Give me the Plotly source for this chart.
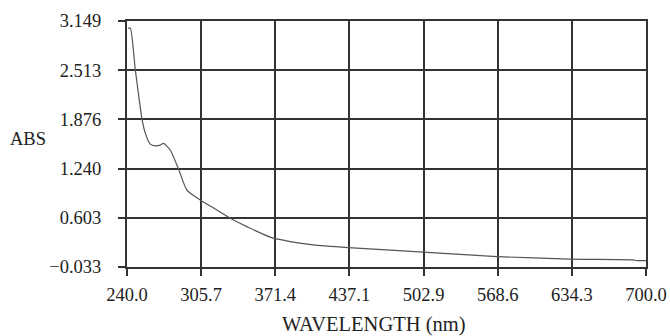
import plotly.graph_objects as go

wavelength = [240.9, 242.9, 247.4, 253.3, 256.2, 260.6, 265.1, 269.5, 272.4, 278.3,
              285.7, 293.1, 304.9, 319.7, 331.5, 346.3, 366.9, 384.6, 405.0, 436.0,
              502.4, 568.0, 632.6, 688.4, 691.9, 700.0]
absorbance = [3.051, 3.059, 2.513, 1.880, 1.699, 1.557, 1.535, 1.544, 1.566, 1.480,
              1.234, 0.962, 0.835, 0.705, 0.598, 0.489, 0.353, 0.296, 0.253, 0.218,
              0.159, 0.102, 0.069, 0.060, 0.050, 0.050]

x_ticks = [240.0, 305.7, 371.4, 437.1, 502.9, 568.6, 634.3, 700.0]
x_tick_labels = ["240.0", "305.7", "371.4", "437.1", "502.9", "568.6", "634.3", "700.0"]
y_ticks = [-0.033, 0.603, 1.240, 1.876, 2.513, 3.149]
y_tick_labels = ["\u22120.033", "0.603", "1.240", "1.876", "2.513", "3.149"]

tick_font = dict(family="Liberation Serif", size=18.5, color="#222")
title_font = dict(family="Liberation Serif", size=20.5, color="#222")

fig = go.Figure()
fig.add_trace(go.Scatter(x=wavelength, y=absorbance, mode="lines",
                         line=dict(color="#555", width=1.2, shape="spline", smoothing=0.6),
                         hoverinfo="skip", showlegend=False))

axis_common = dict(showgrid=True, gridcolor="#333", gridwidth=1.5,
                   showline=True, linecolor="#333", linewidth=1.5, mirror=True,
                   ticks="outside", ticklen=7, tickwidth=1.5, tickcolor="#333",
                   zeroline=False, tickfont=tick_font, automargin=False)

fig.update_xaxes(range=[240, 700], tickvals=x_ticks, ticktext=x_tick_labels,
                 ticklabelstandoff=3, **axis_common)
fig.update_yaxes(range=[-0.033, 3.149], tickvals=y_ticks,
                 ticktext=[t + "\u2002" for t in y_tick_labels],
                 ticklabelstandoff=4, **axis_common)

plot_l, plot_r, plot_t, plot_b = 126.7, 646, 20.7, 267
pw, ph = plot_r - plot_l, plot_b - plot_t

fig.add_annotation(text="ABS", xref="paper", yref="paper",
                   x=(27.5 - plot_l) / pw, y=(plot_b - 138.5) / ph,
                   xanchor="center", yanchor="middle", showarrow=False, font=tick_font)
fig.add_annotation(text="WAVELENGTH (nm)", xref="paper", yref="paper",
                   x=(373.5 - plot_l) / pw, y=(plot_b - 325) / ph,
                   xanchor="center", yanchor="middle", showarrow=False, font=title_font)

fig.update_layout(width=670, height=336, plot_bgcolor="white", paper_bgcolor="white",
                  margin=dict(l=plot_l, r=670 - plot_r, t=plot_t, b=336 - plot_b),
                  font=tick_font)

fig.write_html("out.html", config={"displayModeBar": False},
               post_script="document.body.style.margin='0';")
